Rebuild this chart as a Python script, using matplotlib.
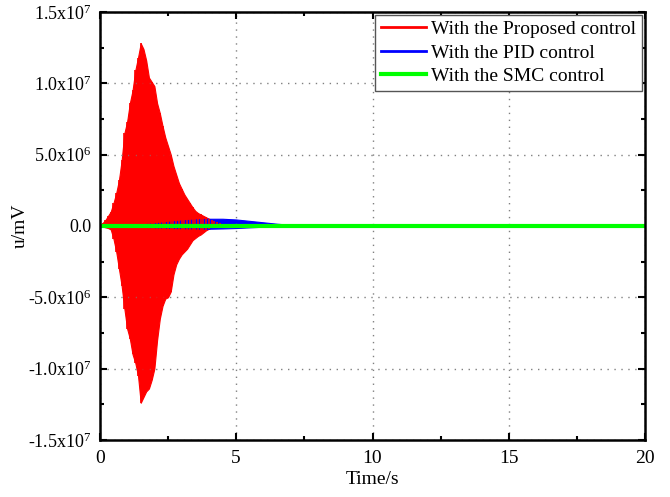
import numpy as np
import matplotlib
matplotlib.use("Agg")
import matplotlib.pyplot as plt
from matplotlib.ticker import FuncFormatter, MultipleLocator

plt.rcParams['font.family'] = ['Liberation Serif', 'DejaVu Serif']
plt.rcParams['mathtext.fontset'] = 'custom'
plt.rcParams['mathtext.rm'] = 'Liberation Serif'
plt.rcParams['mathtext.it'] = 'Liberation Serif:italic'

# proposed control: peak envelope of the oscillating input (units of 1e6 mV)
t_prop = np.round(np.arange(0, 51) * 0.1, 2)
prop_hi = [0, 0.2, 0.4, 0.7, 1.0, 1.6, 2.3, 3.2, 4.6, 6.5,
           7.3, 8.6, 9.5, 10.9, 11.8, 12.8, 12.4, 11.6, 10.4, 10.1,
           9.8, 8.6, 7.9, 7.0, 6.2, 5.6, 5.0, 4.2, 3.6, 3.0,
           2.6, 2.2, 1.9, 1.6, 1.3, 1.05, 0.9, 0.8, 0.7, 0.6,
           0.5, 0.4, 0.35, 0.3, 0.2, 0.15, 0.1, 0.05, 0.02, 0, 0]
prop_lo = [0, -0.05, -0.1, -0.15, -0.25, -0.9, -1.8, -3.0, -4.2, -5.8,
           -7.2, -7.9, -9.0, -9.6, -10.5, -12.4, -12.0, -11.6, -11.4, -10.8,
           -10.0, -8.0, -6.5, -5.6, -5.1, -5.0, -4.6, -3.4, -2.7, -2.3,
           -2.0, -1.8, -1.6, -1.3, -1.0, -0.85, -0.7, -0.6, -0.45, -0.3,
           -0.2, -0.1, -0.05, 0, 0, 0, 0, 0, 0, 0, 0]

# PID control envelope (units of 1e6 mV)
t_pid = [0, 1, 1.5, 2, 2.5, 3, 3.5, 4, 4.5, 5, 5.5, 6, 6.5, 7, 8]
pid_hi = [0, 0.05, 0.1, 0.18, 0.28, 0.38, 0.45, 0.5, 0.5, 0.45, 0.35, 0.25, 0.15, 0.08, 0]
pid_lo = [0, -0.03, -0.06, -0.1, -0.13, -0.16, -0.18, -0.2, -0.18, -0.15, -0.1, -0.06, -0.03, 0, 0]

# SMC control
t_smc = [0, 5, 10, 15, 20]
smc = [0, 0, 0, 0, 0]

fig = plt.figure(figsize=(6.7, 4.97), dpi=100)
ax = fig.add_axes([0.149, 0.115, 0.814, 0.861])

hi = np.array(prop_hi) * 1e6
lo = np.array(prop_lo) * 1e6
ax.fill_between(t_prop, lo, hi, color='#ff0000', lw=0.8)
# vertical swings between the upper and lower peaks
ax.vlines(t_prop, lo, hi, color='#ff0000', lw=1.2)
ax.plot([], [], color='#ff0000', lw=2, label='With the Proposed control')

ax.fill_between(t_pid, np.array(pid_lo) * 1e6, np.array(pid_hi) * 1e6,
                color='#0000ff', lw=0.8)
ax.plot([], [], color='#0000ff', lw=2, label='With the PID control')
ax.plot(t_smc, np.array(smc) * 1e6, color='#00ff00', lw=3, label='With the SMC control')

ax.set_xlim(0, 20)
ax.set_ylim(-1.5e7, 1.5e7)
ax.xaxis.set_major_locator(MultipleLocator(5))
ax.xaxis.set_minor_locator(MultipleLocator(2.5))
ax.yaxis.set_major_locator(MultipleLocator(5e6))
ax.yaxis.set_minor_locator(MultipleLocator(2.5e6))


def sci(v, pos):
    if abs(v) < 1:
        return '0.0'
    e = int(np.floor(np.log10(abs(v))))
    m = v / 10 ** e
    return '%.1fx10$^{%d}$' % (m, e)


ax.yaxis.set_major_formatter(FuncFormatter(sci))
ax.tick_params(which='both', direction='in', top=True, right=True, width=1.5)
ax.tick_params(axis='x', labelsize=14, pad=7)
ax.tick_params(axis='y', labelsize=13, pad=6)
ax.tick_params(which='major', length=5)
ax.tick_params(which='minor', length=3)
for s in ax.spines.values():
    s.set_linewidth(1.8)
ax.grid(True, which='major', linestyle=(0, (1, 4)), color='gray', lw=1)

ax.set_xlabel('Time/s', fontsize=14, labelpad=3)
ax.set_ylabel('u/mV', fontsize=14, labelpad=-1)

leg = ax.legend(loc='upper right', fontsize=14, fancybox=False, edgecolor='#555555',
                framealpha=1, borderaxespad=0.15, handlelength=2.3, borderpad=0.3,
                labelspacing=0.3, handletextpad=0.3)
leg.get_frame().set_linewidth(1.0)

fig.savefig('out.png', dpi=100)
